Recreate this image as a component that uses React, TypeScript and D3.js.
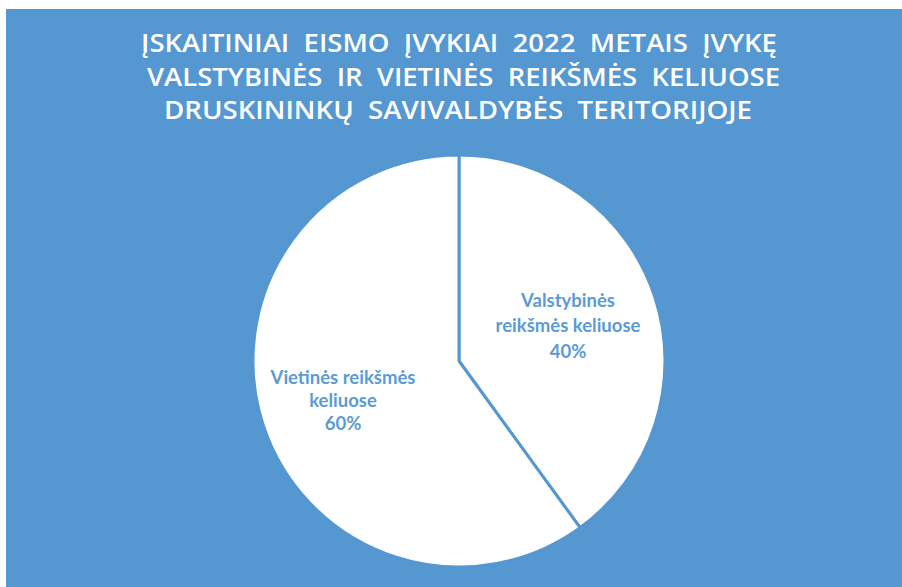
import React from "react";
import * as d3 from "d3";

const categories = ["Valstybinės reikšmės keliuose", "Vietinės reikšmės keliuose"];
const values = [40, 60];
const labelLines = [
  ["Valstybinės", "reikšmės keliuose", "40%"],
  ["Vietinės reikšmės", "keliuose", "60%"],
];
const titleLines = [
  "ĮSKAITINIAI  EISMO  ĮVYKIAI  2022  METAIS  ĮVYKĘ",
  "VALSTYBINĖS  IR  VIETINĖS  REIKŠMĖS  KELIUOSE",
  "DRUSKININKŲ  SAVIVALDYBĖS  TERITORIJOJE",
];

const W = 902;
const H = 587;
const BG = "#5597D1";

export default function App() {
  const cx = 459;
  const cy = 361;
  const r = 206;
  const pie = d3.pie<number>().sort(null).value((d) => d);
  const arcs = pie(values);
  const arcGen = d3.arc<d3.PieArcDatum<number>>().innerRadius(0).outerRadius(r);
  const titleBase = [52, 86, 119];
  const titleX = [[141, 777], [147, 780], [164, 752]];
  const labelPos = [
    { x: 568, y: [307, 332, 358] },
    { x: 343, y: [384, 407, 430] },
  ];
  return (
    <svg width={W} height={H} style={{ position: "absolute", left: 0, top: 0 }}>
      <rect x={0} y={0} width={W} height={H} fill="#ffffff" />
      <rect x={6} y={9} width={W - 6} height={H - 9} fill={BG} />
      {titleLines.map((t, i) => (
        <text
          key={i}
          x={titleX[i][0]}
          y={titleBase[i]}
          textLength={titleX[i][1] - titleX[i][0]}
          lengthAdjust="spacingAndGlyphs"
          fill="#ffffff"
          fontFamily="'Open Sans', sans-serif"
          fontWeight={600}
          fontSize={25}
          xmlSpace="preserve"
          style={{ whiteSpace: "pre" }}
        >
          {t}
        </text>
      ))}
      <g transform={`translate(${cx},${cy})`}>
        {arcs.map((a, i) => (
          <path key={categories[i]} d={arcGen(a) || ""} fill="#ffffff" stroke={BG} strokeWidth={3} strokeLinejoin="round" />
        ))}
      </g>
      {labelLines.map((lines, i) => (
        <text
          key={i}
          textAnchor="middle"
          fill="#5B9BD5"
          fontFamily="Lato, 'Open Sans', sans-serif"
          fontWeight="bold"
          fontSize={18.5}
        >
          {lines.map((l, j) => (
            <tspan key={j} x={labelPos[i].x} y={labelPos[i].y[j]}>
              {l}
            </tspan>
          ))}
        </text>
      ))}
    </svg>
  );
}
